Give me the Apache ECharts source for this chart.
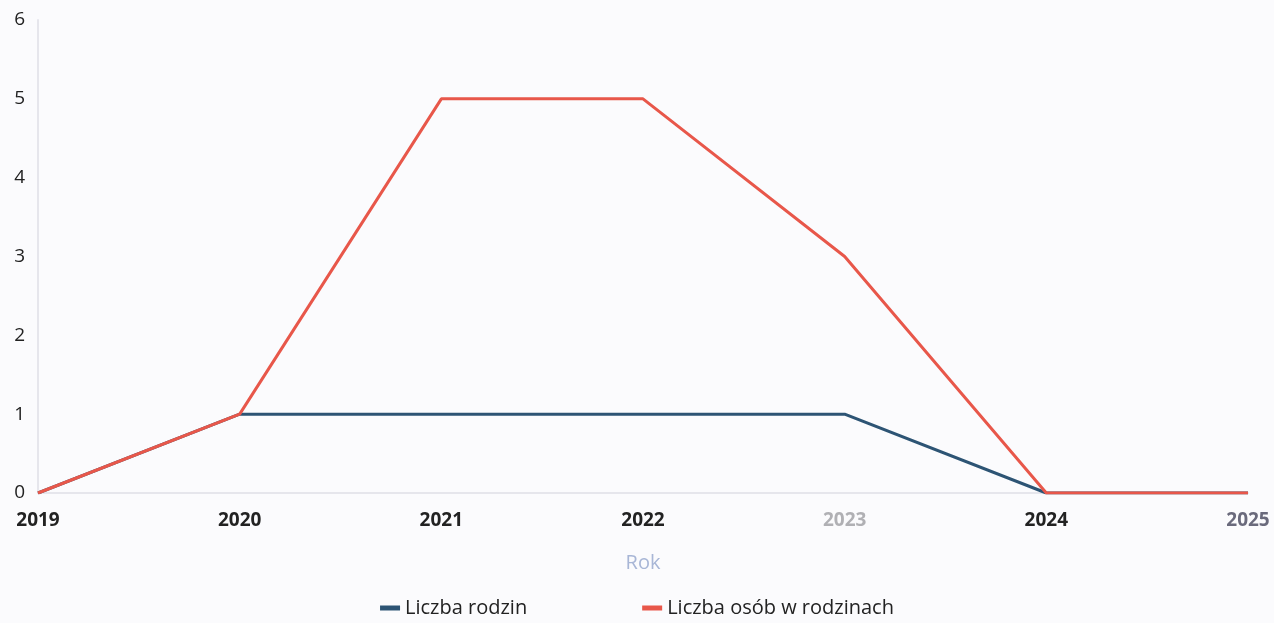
<!DOCTYPE html>
<html>
<head>
<meta charset="utf-8">
<script src="https://cdn.jsdelivr.net/npm/echarts@6/dist/echarts.min.js"></script>
<style>
  html, body { margin: 0; padding: 0; background: #fbfbfd; }
  #chart { width: 1274px; height: 623px; }
</style>
</head>
<body>
<div id="chart"></div>
<script>
var years = ['2019', '2020', '2021', '2022', '2023', '2024', '2025'];
var yearColors = ['#222', '#222', '#222', '#222', '#b0b0b4', '#222', '#6a6a7c'];
var rodziny = [0, 1, 1, 1, 1, 0, 0];
var osoby = [0, 1, 5, 5, 3, 0, 0];
var yTicks = [0, 1, 2, 3, 4, 5, 6];

var chart = echarts.init(document.getElementById('chart'));

var option = {
  backgroundColor: '#fbfbfd',
  textStyle: { fontFamily: 'Open Sans' },
  grid: { left: 38, right: 26, top: 20, bottom: 130 },
  legend: {
    bottom: 0,
    left: 'center',
    icon: 'rect',
    itemWidth: 20,
    itemHeight: 5,
    itemGap: 115,
    textStyle: { fontSize: 20, color: '#222', fontFamily: 'Open Sans' },
    data: ['Liczba rodzin', 'Liczba osób w rodzinach']
  },
  xAxis: {
    type: 'category',
    boundaryGap: false,
    data: years.map(function (y, i) {
      return { value: y, textStyle: { color: yearColors[i] } };
    }),
    name: 'Rok',
    nameLocation: 'middle',
    nameGap: 60,
    nameTextStyle: { color: '#a8b6d6', fontSize: 20 },
    axisLine: { lineStyle: { color: '#e6e6ec', width: 2 } },
    axisTick: { show: false },
    axisLabel: { fontSize: 19, fontWeight: 'bold', margin: 18, color: '#222' }
  },
  yAxis: {
    type: 'value',
    min: yTicks[0],
    max: yTicks[yTicks.length - 1],
    interval: 1,
    axisLine: { show: true, lineStyle: { color: '#e6e6ec', width: 2 } },
    axisTick: { show: false },
    splitLine: { show: false },
    axisLabel: { fontSize: 19, color: '#222', margin: 13 }
  },
  series: [
    {
      name: 'Liczba rodzin',
      type: 'line',
      data: rodziny,
      showSymbol: false,
      color: '#2d5474',
      lineStyle: { width: 3 },
      z: 2
    },
    {
      name: 'Liczba osób w rodzinach',
      type: 'line',
      data: osoby,
      showSymbol: false,
      color: '#e8574a',
      lineStyle: { width: 3 },
      z: 3
    }
  ],
  animation: false
};

chart.setOption(option);
</script>
</body>
</html>
